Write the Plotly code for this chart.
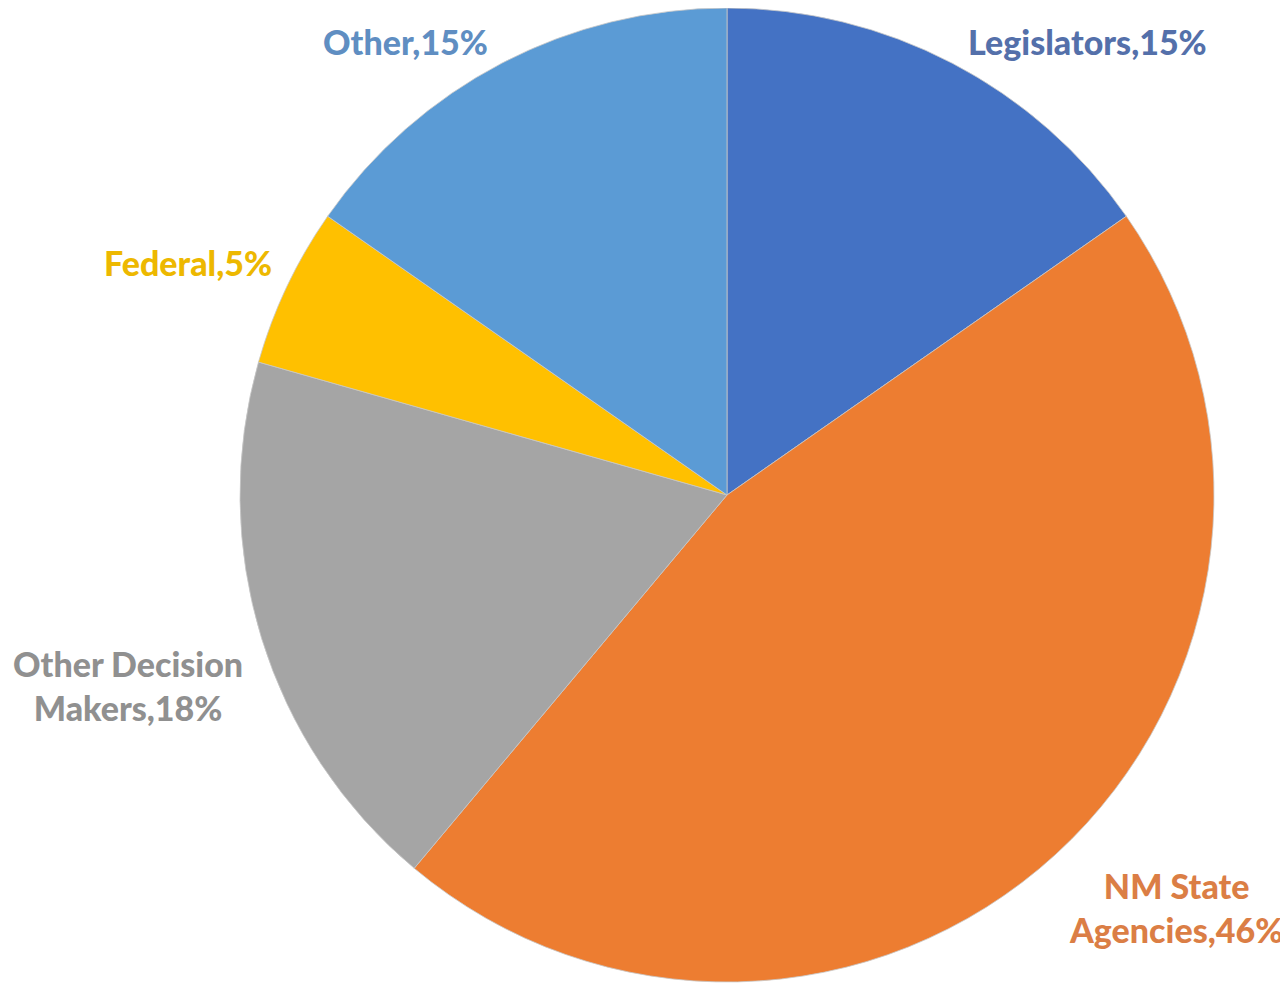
import plotly.graph_objects as go

labels = ["Legislators", "NM State Agencies", "Other Decision Makers", "Federal", "Other"]
values = [15.3, 45.8, 18.3, 5.3, 15.3]
display_text = ["Legislators,15%", "NM State<br>Agencies,46%", "Other Decision<br>Makers,18%", "Federal,5%", "Other,15%"]
slice_colors = ["#4472C4", "#ED7D31", "#A5A5A5", "#FFC000", "#5B9BD5"]
text_colors = ["#5470AA", "#DB7E45", "#909090", "#EDB800", "#5F8EC2"]
# label centre positions in pixels (x from left, y from top)
label_px = [(1087, 42), (1176, 907), (128, 685), (188, 262), (405, 42)]

W, H = 1288, 987
OFF = 8  # page body margin offset
cx, cy, r = 727 - OFF, 495 - OFF, 487


def clamp(v):
    return max(0.0, min(1.0, v))


fig = go.Figure(go.Pie(
    labels=labels,
    values=values,
    sort=False,
    direction="clockwise",
    rotation=0,
    marker=dict(colors=slice_colors, line=dict(color="#C8C8C8", width=0.8)),
    textinfo="none",
    hoverinfo="label+percent",
    showlegend=False,
    domain=dict(x=[clamp((cx - r) / W), clamp((cx + r) / W)],
                y=[clamp((H - cy - r) / H), clamp((H - cy + r) / H)]),
))

for txt, col, (px, py) in zip(display_text, text_colors, label_px):
    fig.add_annotation(
        x=(px - OFF) / W, y=1 - (py - OFF) / H, xref="paper", yref="paper",
        text=txt, showarrow=False, xanchor="center", yanchor="middle",
        font=dict(family="Lato", size=34, color=col, weight=900),
        align="center",
    )

fig.update_layout(
    width=W, height=H,
    margin=dict(l=0, r=0, t=0, b=0),
    paper_bgcolor="white",
    plot_bgcolor="white",
)

fig.write_html("out.html")
